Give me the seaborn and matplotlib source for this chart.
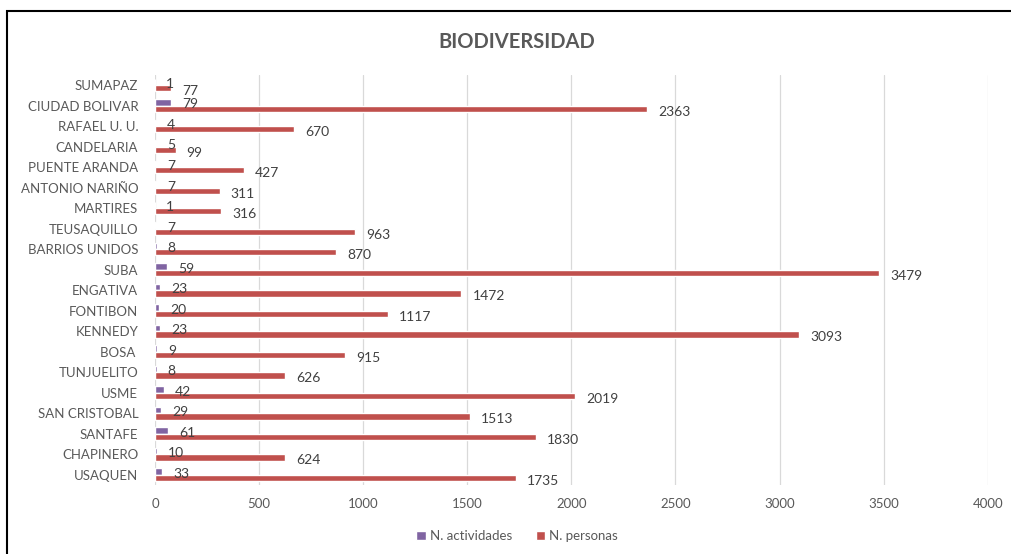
import numpy as np
import pandas as pd
import matplotlib.pyplot as plt
import seaborn as sns
from matplotlib.patches import Rectangle

# Localidades (top to bottom as shown)
localidades = ['SUMAPAZ', 'CIUDAD BOLIVAR', 'RAFAEL U. U.', 'CANDELARIA', 'PUENTE ARANDA',
               'ANTONIO NARIÑO', 'MARTIRES', 'TEUSAQUILLO', 'BARRIOS UNIDOS', 'SUBA',
               'ENGATIVA', 'FONTIBON', 'KENNEDY', 'BOSA ', 'TUNJUELITO',
               'USME', 'SAN CRISTOBAL', 'SANTAFE', 'CHAPINERO', 'USAQUEN']
actividades = [1, 79, 4, 5, 7, 7, 1, 7, 8, 59, 23, 20, 23, 9, 8, 42, 29, 61, 10, 33]
personas = [77, 2363, 670, 99, 427, 311, 316, 963, 870, 3479,
            1472, 1117, 3093, 915, 626, 2019, 1513, 1830, 624, 1735]
series = ['N. actividades', 'N. personas']
colors = ['#8064A2', '#C0504D']

df = pd.DataFrame({'localidad': localidades * 2,
                   'serie': [series[0]] * len(localidades) + [series[1]] * len(localidades),
                   'valor': actividades + personas})

sns.set_style('white')
plt.rcParams['font.family'] = ['Lato', 'DejaVu Sans']
text_color = '#595959'

fig = plt.figure(figsize=(10.11, 5.54), dpi=100)
ax = fig.add_axes([0.1533, 0.1245, 0.8237, 0.7405])

sns.barplot(data=df, x='valor', y='localidad', hue='serie', order=localidades,
            hue_order=series, palette=colors, orient='h', width=0.62,
            saturation=1, ax=ax, legend=True)

# labels sit a little below their bar, like the Excel original (points, downward)
offsets = [1.5, 2.0]
for cont, dy in zip(ax.containers, offsets):
    labels = ax.bar_label(cont, padding=8, fontsize=10, color='#404040')
    for t in labels:
        t.xyann = (8, -dy)

ax.set_xlim(0, 4000)
ax.set_ylim(len(localidades) - 0.5, -0.5)
ax.set_xticks(np.arange(0, 4001, 500))
ax.xaxis.grid(True, color='#D9D9D9', linewidth=0.9)
ax.set_axisbelow(True)
for s in ax.spines.values():
    s.set_visible(False)
ax.tick_params(axis='both', length=0, colors=text_color, labelsize=9.5)
ax.tick_params(axis='x', pad=9)
ax.tick_params(axis='y', pad=12)
ax.set_xlabel('')
ax.set_ylabel('')

ax.legend(loc='center', bbox_to_anchor=(517 / 1011, 1 - 536 / 554),
          bbox_transform=fig.transFigure, ncol=2, frameon=False,
          handlelength=0.7, handleheight=0.7, handletextpad=0.3,
          columnspacing=1.8, fontsize=9.5, labelcolor=text_color)

fig.text(517 / 1011, 1 - 42 / 554, 'BIODIVERSIDAD', ha='center', va='center',
         fontsize=14.5, fontweight='bold', color=text_color)

# chart border
fig.patches.append(Rectangle((7 / 1011, -0.01), 1.02, 1 - 11 / 554 + 0.01,
                             transform=fig.transFigure, fill=False,
                             edgecolor='black', linewidth=1.5))

fig.savefig('out.png', dpi=100)
